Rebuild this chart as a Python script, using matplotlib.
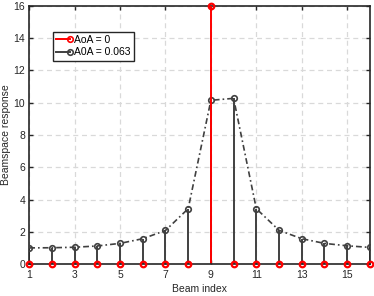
import numpy as np
import matplotlib
matplotlib.use("Agg")
import matplotlib.pyplot as plt
from matplotlib.lines import Line2D
from matplotlib.legend_handler import HandlerLine2D

plt.rcParams['font.family'] = ['Liberation Sans', 'DejaVu Sans']
plt.rcParams['font.size'] = 7.5

# beam indices and responses
beam_idx = np.arange(1, 17)
aoa0 = [0, 0, 0, 0, 0, 0, 0, 0, 16, 0, 0, 0, 0, 0, 0, 0]
aoa063 = [1.0, 1.01, 1.04, 1.12, 1.28, 1.57, 2.08, 3.43,
          10.15, 10.27, 3.43, 2.09, 1.57, 1.28, 1.13, 1.03]

xticks = [1, 3, 5, 7, 9, 11, 13, 15]
yticks = np.arange(0, 17, 2)

gray = '#404040'
red = '#ff0000'


class MarkerAtEnd(HandlerLine2D):
    # MATLAB-style legend entry: marker sits at the right end of the line
    def create_artists(self, *args, **kwargs):
        arts = super().create_artists(*args, **kwargs)
        for a in arts:
            if isinstance(a, Line2D):
                a.set_markevery([2])
        return arts


fig = plt.figure(figsize=(3.74, 2.96), dpi=100)
ax = fig.add_axes([0.078, 0.108, 0.911, 0.872])

# black stems with dash-dot connecting line
ax.vlines(beam_idx, 0, aoa063, color=gray, lw=1.4, zorder=2)
ax.plot(beam_idx, aoa063, color=gray, ls=(0, (3.5, 1.8, 1, 1.8)), lw=1.2,
        marker='o', ms=4, mfc='none', mec=gray, mew=1.2, zorder=3)

# red stems
ax.vlines(beam_idx, 0, aoa0, color=red, lw=1.4, zorder=4)
ax.plot(beam_idx, aoa0, ls='none', marker='o', ms=4, mfc='none',
        mec=red, mew=1.6, zorder=5, clip_on=False)

ax.set_xlim(1, 16)
ax.set_ylim(0, 16)
ax.set_xticks(xticks)
ax.set_yticks(yticks)
ax.grid(True, ls=(0, (4, 3)), color='#d9d9d9', lw=0.9)
ax.set_axisbelow(True)
ax.tick_params(direction='in', top=True, right=True, length=3, width=1,
               colors='#262626', labelcolor='#262626', pad=3)
ax.tick_params(axis='x', pad=4)
for s in ax.spines.values():
    s.set_linewidth(1.2)
    s.set_color('#262626')
ax.spines['bottom'].set_zorder(4.5)

ax.set_xlabel('Beam index', labelpad=3, color='#262626')
ax.set_ylabel('Beamspace response', labelpad=1.5, color='#262626')

handles = [
    Line2D([], [], color=red, lw=1.4, marker='o', ms=4, mfc='none', mew=1.2),
    Line2D([], [], color=gray, lw=1.4, marker='o', ms=4, mfc='none', mew=1.2),
]
leg = ax.legend(handles, ['AoA = 0', 'A0A = 0.063'], loc='upper left',
                bbox_to_anchor=(0.07, 0.9), fancybox=False, framealpha=1,
                edgecolor='#262626', handlelength=1.3, handletextpad=0.45,
                borderpad=0.3, labelspacing=0.25, borderaxespad=0,
                handler_map={Line2D: MarkerAtEnd()})
leg.get_frame().set_linewidth(1.0)

fig.savefig('out.png', dpi=100)
